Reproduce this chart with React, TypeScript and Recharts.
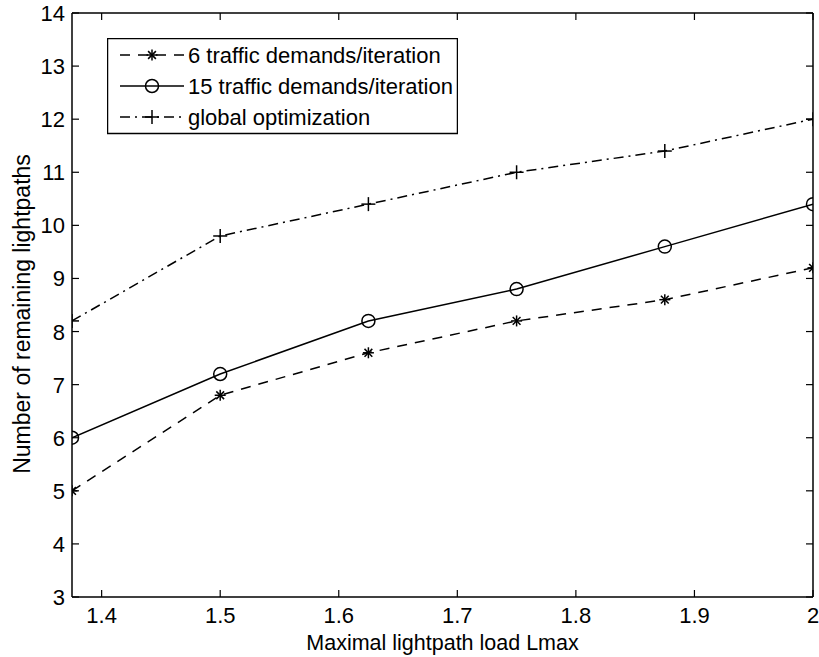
import React from 'react';
import { LineChart, Line, XAxis, YAxis, Legend, ReferenceLine } from 'recharts';

// x values: maximal lightpath load
const loads = [1.375, 1.5, 1.625, 1.75, 1.875, 2];
const sixPerIter = [5, 6.8, 7.6, 8.2, 8.6, 9.2];
const fifteenPerIter = [6, 7.2, 8.2, 8.8, 9.6, 10.4];
const globalOpt = [8.2, 9.8, 10.4, 11, 11.4, 12];

const xTicks = [1.4, 1.5, 1.6, 1.7, 1.8, 1.9, 2];
const yTicks = [3, 4, 5, 6, 7, 8, 9, 10, 11, 12, 13, 14];

const X_MIN = 1.375;
const X_MAX = 2;
const Y_MIN = 3;
const Y_MAX = 14;

const data = loads.map((x, i) => ({
  x,
  six: sixPerIter[i],
  fifteen: fifteenPerIter[i],
  global: globalOpt[i],
}));

const FONT = '"Liberation Sans", Arial, Helvetica, sans-serif';
const FS = 22;
const TICK = 7;

// plot box (matches the chart margins + axis sizes below)
const PLOT = { left: 72, top: 13, width: 741, height: 584 };
const px = (v: number) => PLOT.left + ((v - X_MIN) / (X_MAX - X_MIN)) * PLOT.width;
const py = (v: number) => PLOT.top + ((Y_MAX - v) / (Y_MAX - Y_MIN)) * PLOT.height;

const Star = ({ cx, cy }: any) => {
  const r = 5.5;
  const d = r * 0.707;
  return (
    <g stroke="#000" strokeWidth={1.5}>
      <line x1={cx - r} y1={cy} x2={cx + r} y2={cy} />
      <line x1={cx} y1={cy - r} x2={cx} y2={cy + r} />
      <line x1={cx - d} y1={cy - d} x2={cx + d} y2={cy + d} />
      <line x1={cx - d} y1={cy + d} x2={cx + d} y2={cy - d} />
    </g>
  );
};

const Circle = ({ cx, cy }: any) => (
  <circle cx={cx} cy={cy} r={6.5} fill="none" stroke="#000" strokeWidth={1.5} />
);

const Plus = ({ cx, cy }: any) => {
  const r = 7;
  return (
    <g stroke="#000" strokeWidth={1.5}>
      <line x1={cx - r} y1={cy} x2={cx + r} y2={cy} />
      <line x1={cx} y1={cy - r} x2={cx} y2={cy + r} />
    </g>
  );
};

const BottomTick = ({ x, y, payload }: any) => (
  <text x={x} y={y + 26} textAnchor="middle" fontSize={FS} fontFamily={FONT} fill="#000">
    {payload.value}
  </text>
);

const LeftTick = ({ x, y, payload }: any) => (
  <text x={x - 7} y={y + 8} textAnchor="end" fontSize={FS} fontFamily={FONT} fill="#000">
    {payload.value}
  </text>
);

const legendRows = [
  { label: '6 traffic demands/iteration', dash: '10 8', Marker: Star },
  { label: '15 traffic demands/iteration', dash: undefined, Marker: Circle },
  { label: 'global optimization', dash: '10 5 2 5', Marker: Plus },
];

const LegendBox = () => (
  <svg width={351} height={97} style={{ display: 'block' }}>
    <rect x={0.5} y={0.5} width={350} height={95} fill="#fff" stroke="#000" strokeWidth={1.5} />
    {legendRows.map((row, i) => {
      const cy = 17 + i * 31;
      return (
        <g key={row.label}>
          <line x1={13} y1={cy} x2={77} y2={cy} stroke="#000" strokeWidth={1.5} strokeDasharray={row.dash} />
          <row.Marker cx={45} cy={cy} />
          <text x={81} y={cy + 8} fontSize={FS} fontFamily={FONT} fill="#000">
            {row.label}
          </text>
        </g>
      );
    })}
  </svg>
);

// inward tick marks on all four sides, drawn on top of the chart
const TickOverlay = () => {
  const bottom = PLOT.top + PLOT.height;
  const right = PLOT.left + PLOT.width;
  return (
    <svg
      width={819}
      height={657}
      style={{ position: 'absolute', left: 0, top: 0, pointerEvents: 'none' }}
    >
      <g stroke="#000" strokeWidth={1.2}>
        {xTicks.map((t) => (
          <g key={`x-${t}`}>
            <line x1={px(t)} y1={bottom} x2={px(t)} y2={bottom - TICK} />
            <line x1={px(t)} y1={PLOT.top} x2={px(t)} y2={PLOT.top + TICK} />
          </g>
        ))}
        {yTicks.map((t) => (
          <g key={`y-${t}`}>
            <line x1={PLOT.left} y1={py(t)} x2={PLOT.left + TICK} y2={py(t)} />
            <line x1={right} y1={py(t)} x2={right - TICK} y2={py(t)} />
          </g>
        ))}
      </g>
    </svg>
  );
};

const axisLine = { stroke: '#000', strokeWidth: 1.5 };

export default function App() {
  return (
    <div style={{ position: 'absolute', left: 0, top: 0, width: 819, height: 657, background: '#fff' }}>
      <LineChart
        width={819}
        height={657}
        data={data}
        margin={{ top: 13, right: 6, left: 32, bottom: 20 }}
      >
        <XAxis
          dataKey="x"
          type="number"
          domain={[X_MIN, X_MAX]}
          ticks={xTicks}
          allowDataOverflow
          height={40}
          tickSize={0}
          tickMargin={0}
          tickLine={false}
          tick={<BottomTick />}
          axisLine={axisLine}
          label={{
            content: () => (
              <text x={442.5} y={650} textAnchor="middle" fontSize={21.5} fontFamily={FONT} fill="#000">
                Maximal lightpath load Lmax
              </text>
            ),
          }}
        />
        <YAxis
          type="number"
          domain={[Y_MIN, Y_MAX]}
          ticks={yTicks}
          allowDataOverflow
          width={40}
          tickSize={0}
          tickMargin={0}
          tickLine={false}
          tick={<LeftTick />}
          axisLine={axisLine}
          label={{
            content: () => (
              <text
                x={0}
                y={0}
                transform="translate(30 314) rotate(-90)"
                textAnchor="middle"
                fontSize={23}
                fontFamily={FONT}
                fill="#000"
              >
                Number of remaining lightpaths
              </text>
            ),
          }}
        />

        {/* top and right frame */}
        <ReferenceLine x={X_MAX} stroke="#000" strokeWidth={1.5} ifOverflow="visible" />
        <ReferenceLine y={Y_MAX} stroke="#000" strokeWidth={1.5} ifOverflow="visible" />

        <Legend
          layout="horizontal"
          verticalAlign="middle"
          align="center"
          content={() => <LegendBox />}
          wrapperStyle={{ position: 'absolute', left: 107, top: 38, width: 351, height: 97 }}
        />
        <Line
          dataKey="global"
          stroke="#000"
          strokeWidth={1.5}
          strokeDasharray="10 5 2 5"
          dot={<Plus />}
          isAnimationActive={false}
        />
        <Line
          dataKey="fifteen"
          stroke="#000"
          strokeWidth={1.5}
          dot={<Circle />}
          isAnimationActive={false}
        />
        <Line
          dataKey="six"
          stroke="#000"
          strokeWidth={1.5}
          strokeDasharray="10 8"
          dot={<Star />}
          isAnimationActive={false}
        />
      </LineChart>
      <TickOverlay />
    </div>
  );
}
